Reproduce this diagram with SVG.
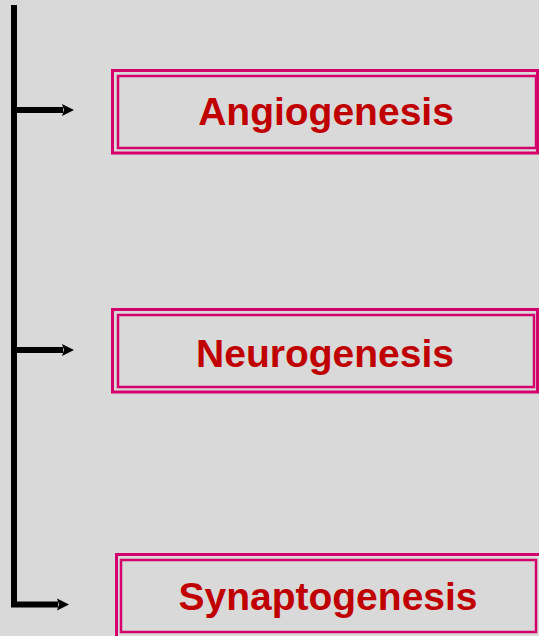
<svg xmlns="http://www.w3.org/2000/svg" width="539" height="636" viewBox="0 0 539 636">
<defs>
<style>
.frame{fill:none;stroke:#D4006C;stroke-width:3}
.inner{fill:none;stroke:#D4006C;stroke-width:2.5}
.lbl{font-family:"Liberation Sans",Arial,sans-serif;font-weight:bold;font-size:39px;fill:#C00000;text-anchor:middle}
.conn{fill:none;stroke:#000;stroke-width:6}
</style>
<marker id="ah" markerUnits="userSpaceOnUse" markerWidth="14" markerHeight="14" refX="1" refY="6" orient="auto" overflow="visible">
<path d="M0,0 L12,6 L0,12 L2,6 Z" fill="#000"/>
</marker>
</defs>
<rect width="539" height="636" fill="#D9D9D9"/>
<g id="connectors">
<path class="conn" d="M14,5 V604.5 H58" marker-end="url(#ah)"/>
<path class="conn" d="M14,110 H63" marker-end="url(#ah)"/>
<path class="conn" d="M14,350 H63" marker-end="url(#ah)"/>
</g>
<g id="angiogenesis">
<rect class="frame" x="112.5" y="70.5" width="425" height="82.5"/>
<rect class="inner" x="118" y="76" width="418" height="72"/>
<text class="lbl" x="326" y="125">Angiogenesis</text>
</g>
<g id="neurogenesis">
<rect class="frame" x="112.5" y="309.5" width="425" height="82.5"/>
<rect class="inner" x="118" y="315" width="416" height="72"/>
<text class="lbl" x="325" y="367">Neurogenesis</text>
</g>
<g id="synaptogenesis">
<rect class="frame" x="116.5" y="554.5" width="425" height="90"/>
<rect class="inner" x="121" y="560" width="415" height="72"/>
<text class="lbl" x="328" y="610">Synaptogenesis</text>
</g>
</svg>
